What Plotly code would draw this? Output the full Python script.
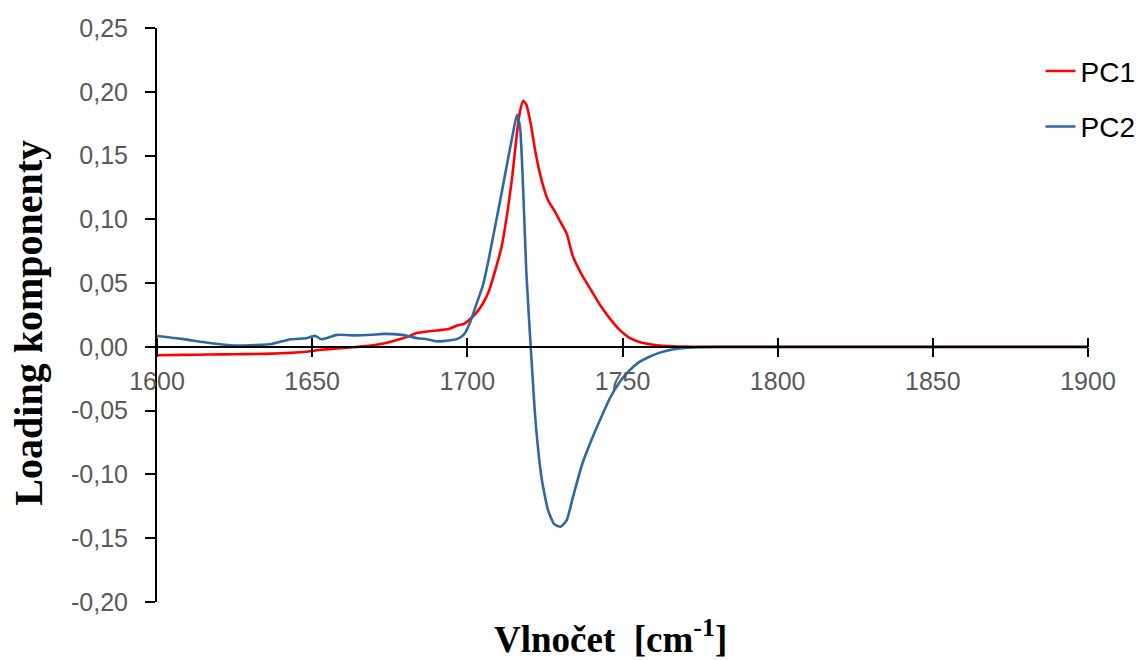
import plotly.graph_objects as go

# Wavenumber grid (cm^-1)
wavenumber = [1600, 1608, 1617, 1625, 1632, 1637, 1643, 1648, 1651, 1653, 1658, 1664, 1669, 1673,
              1679, 1684, 1687, 1690, 1694, 1697, 1699, 1701, 1703, 1705, 1707, 1709, 1711, 1713,
              1714.5, 1716, 1717, 1718, 1719, 1720.5, 1722, 1724, 1726, 1728, 1730, 1732, 1734,
              1737, 1740, 1743, 1746, 1749, 1752, 1755, 1758, 1762, 1766, 1770, 1775, 1780, 1800,
              1850, 1900]

pc1 = [-0.0065, -0.0063, -0.0060, -0.0058, -0.0056, -0.0053, -0.0047, -0.0038, -0.0028, -0.0023,
       -0.0013, -0.0001, 0.0010, 0.0026, 0.0065, 0.0110, 0.0120, 0.0128, 0.0140, 0.0170, 0.0180,
       0.0220, 0.0270, 0.0340, 0.0440, 0.0600, 0.0780, 0.1070, 0.1340, 0.1680, 0.1850, 0.1930,
       0.1900, 0.1740, 0.1520, 0.1300, 0.1150, 0.1070, 0.0980, 0.0890, 0.0710, 0.0560, 0.0440,
       0.0320, 0.0220, 0.0135, 0.0075, 0.0042, 0.0024, 0.0011, 0.0005, 0.0002, 0.0000, 0.0000,
       0.0000, 0.0000, 0.0000]

pc2 = [0.0086, 0.0063, 0.0030, 0.0010, 0.0015, 0.0023, 0.0060, 0.0067, 0.0086, 0.0060, 0.0094,
       0.0090, 0.0095, 0.0102, 0.0094, 0.0068, 0.0060, 0.0044, 0.0050, 0.0065, 0.0100, 0.0200,
       0.0340, 0.0480, 0.0700, 0.0950, 0.1200, 0.1460, 0.1650, 0.1820, 0.1720, 0.1230, 0.0590,
       -0.0030, -0.0590, -0.1040, -0.1280, -0.1390, -0.1410, -0.1360, -0.1180, -0.0920, -0.0730,
       -0.0560, -0.0400, -0.0280, -0.0190, -0.0125, -0.0085, -0.0045, -0.0020, -0.0008, -0.0002,
       0.0000, 0.0000, 0.0000, 0.0000]

y_tickvals = [-0.20, -0.15, -0.10, -0.05, 0.00, 0.05, 0.10, 0.15, 0.20, 0.25]
y_ticktext = ["-0,20", "-0,15", "-0,10", "-0,05", "0,00", "0,05", "0,10", "0,15", "0,20", "0,25"]
x_tickvals = [1600, 1650, 1700, 1750, 1800, 1850, 1900]

Y_MIN, Y_MAX = -0.20, 0.25
X_MIN, X_MAX = 1600, 1900
zero_pos = (0 - Y_MIN) / (Y_MAX - Y_MIN)

tick_font = dict(family="Liberation Sans, Arial, sans-serif", size=25, color="#595959")

fig = go.Figure()
fig.add_trace(go.Scatter(x=wavenumber, y=pc1, mode="lines", name="PC1", legendgroup="g1",
                         line=dict(color="#FF0000", width=2.6, shape="spline", smoothing=0.5)))
fig.add_trace(go.Scatter(x=wavenumber, y=pc2, mode="lines", name="PC2", legendgroup="g2",
                         xaxis="x2",
                         line=dict(color="#2F68A2", width=2.6, shape="spline", smoothing=0.5)))

fig.update_layout(
    width=1142, height=661,
    margin=dict(l=157, r=54, t=28, b=59, autoexpand=False),
    paper_bgcolor="white", plot_bgcolor="white",
    showlegend=True,
    legend=dict(x=0.949, y=0.968, xanchor="left", yanchor="top",
                font=dict(family="Liberation Sans, Arial, sans-serif", size=28, color="#000000"),
                tracegroupgap=16, bgcolor="rgba(0,0,0,0)"),
    xaxis=dict(range=[X_MIN, X_MAX], tickvals=x_tickvals, anchor="free", position=zero_pos,
               showline=True, linecolor="black", linewidth=2,
               ticks="outside", ticklen=9, tickwidth=2, tickcolor="black",
               showgrid=False, zeroline=False, tickfont=tick_font, ticklabelstandoff=3,
               automargin=False),
    xaxis2=dict(range=[X_MIN, X_MAX], tickvals=x_tickvals, overlaying="x", anchor="free",
                position=zero_pos, side="top", showline=False, ticks="outside", ticklen=9,
                tickwidth=2, tickcolor="black", showticklabels=False, showgrid=False,
                zeroline=False, automargin=False),
    yaxis=dict(range=[Y_MIN, Y_MAX], tickvals=y_tickvals, ticktext=y_ticktext,
               showline=True, linecolor="black", linewidth=2,
               ticks="outside", ticklen=10, tickwidth=2, tickcolor="black",
               showgrid=False, zeroline=False, tickfont=tick_font, ticklabelstandoff=12,
               automargin=False),
    annotations=[
        dict(text="Vlnočet  [cm<sup>-1</sup>]", xref="paper", yref="paper", x=0.4866, y=-0.06,
             xanchor="center", yanchor="middle", showarrow=False,
             font=dict(family="Liberation Serif, Times New Roman, serif", size=37, color="black", weight="bold")),
        dict(text="Loading komponenty", xref="paper", yref="paper", x=-0.139, y=0.486,
             xanchor="center", yanchor="middle", showarrow=False, textangle=-90,
             font=dict(family="Liberation Serif, Times New Roman, serif", size=40, color="black", weight="bold")),
    ],
)

fig.write_html("out.html")
